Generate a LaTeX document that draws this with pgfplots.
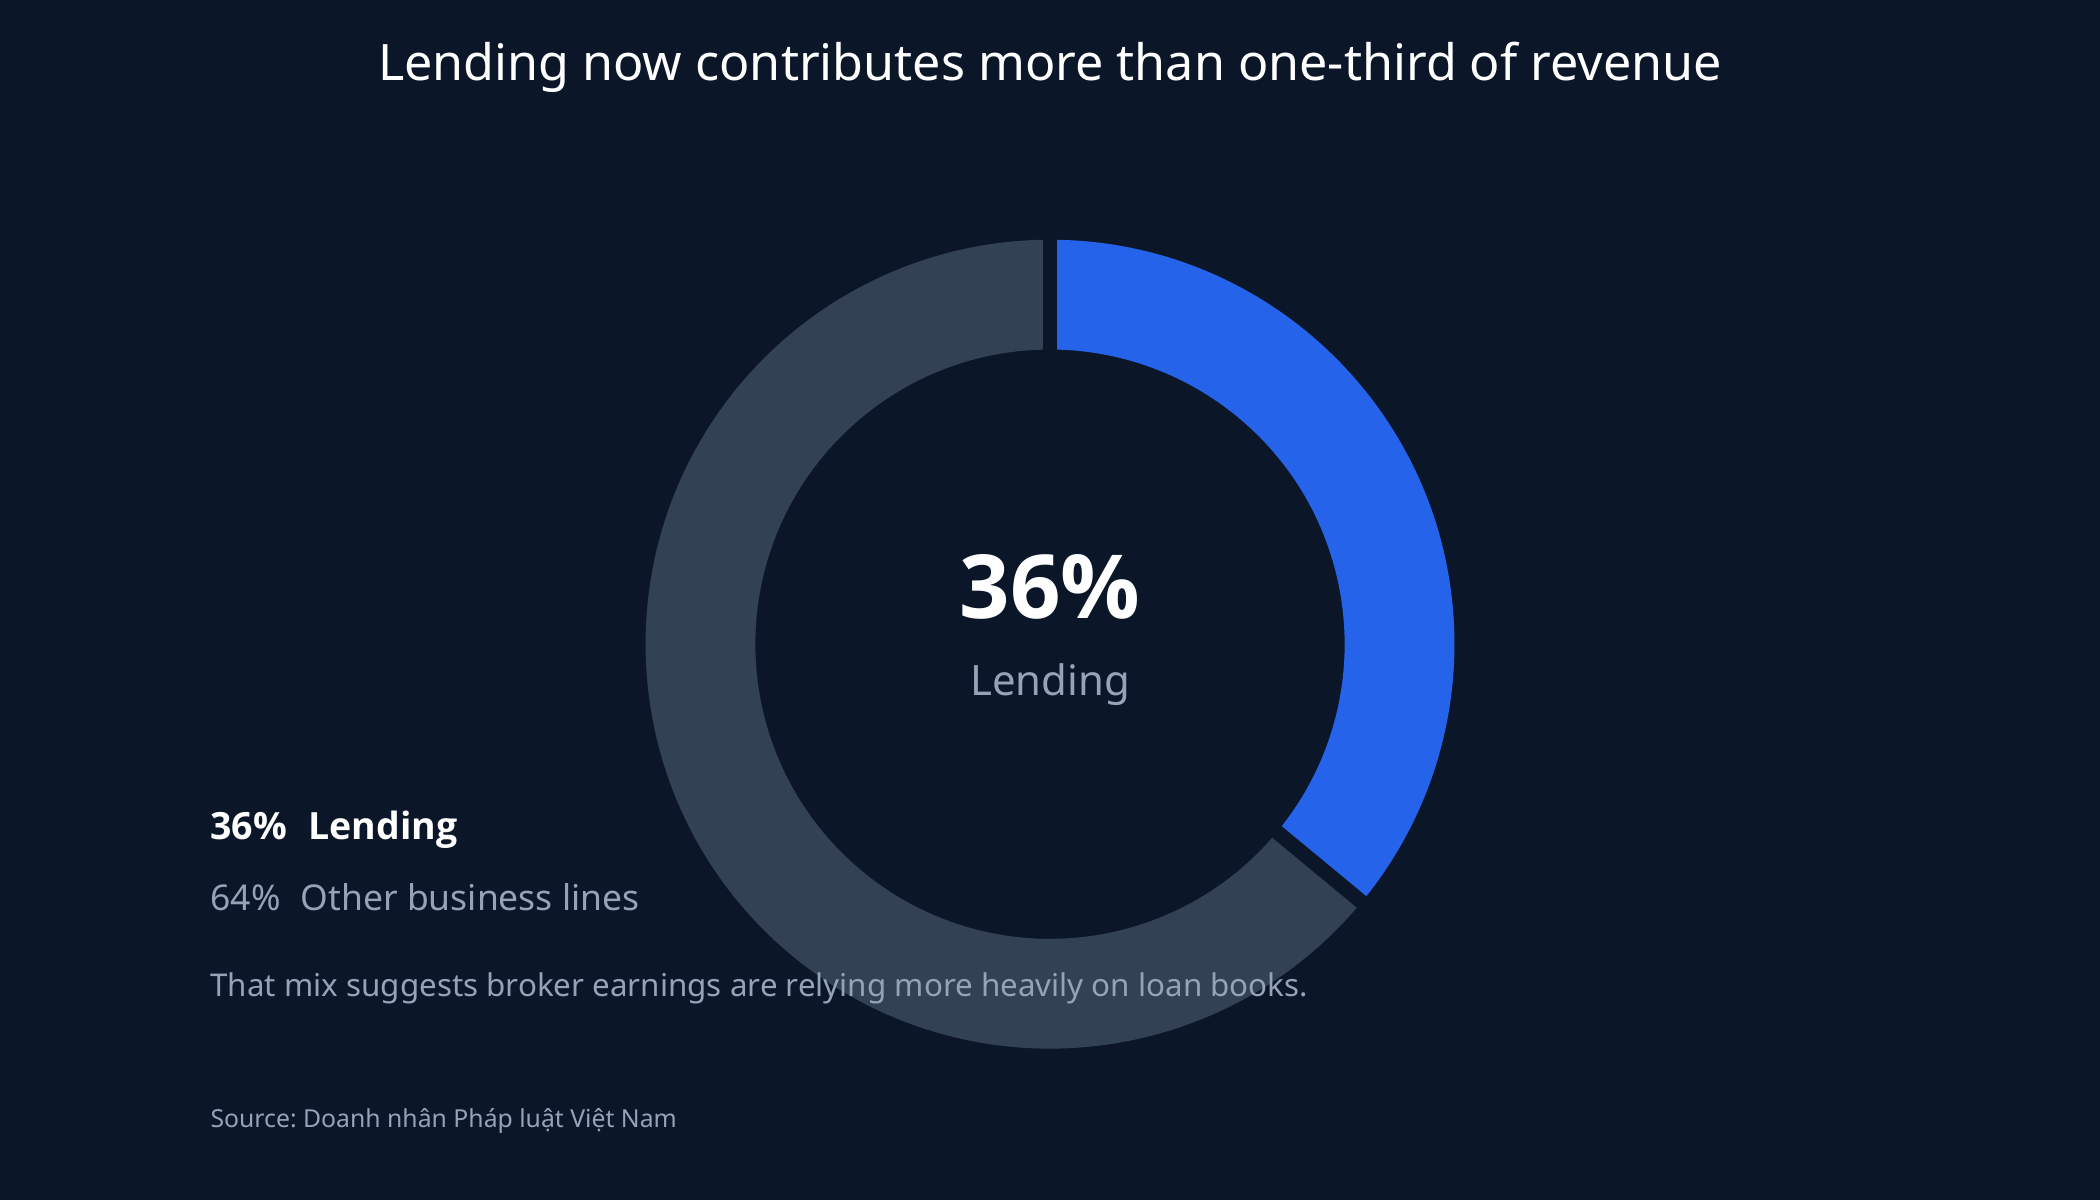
\documentclass[border=0pt]{standalone}
\usepackage{fontspec}
\setmainfont{Noto Sans}
\newfontfamily\osans{Open Sans}
\usepackage{pgfplots}
\pgfplotsset{compat=1.18}
\frenchspacing

\definecolor{bg}{HTML}{0B1628}
\definecolor{lendblue}{HTML}{2563EB}
\definecolor{othergray}{HTML}{334155}
\definecolor{muted}{HTML}{94A3B8}

\newcommand{\fs}[1]{\fontsize{#1pt}{#1pt}\selectfont}

\begin{document}
\begin{tikzpicture}
% shares in percent
\pgfmathsetmacro{\lend}{36}
\pgfmathsetmacro{\other}{64}
\pgfmathsetmacro{\cut}{90-3.6*\lend}
\pgfmathsetmacro{\stop}{\cut-3.6*\other}
\useasboundingbox (0,0) rectangle (1568pt,896pt);
\fill[bg] (0,0) rectangle (1568pt,896pt);
\begin{axis}[
  x=1pt, y=1pt,
  xmin=0, xmax=1568, ymin=0, ymax=896,
  at={(0,0)}, anchor=south west,
  hide axis, clip=false]
\begin{scope}[shift={(axis cs:784,415)}]
  \fill[lendblue] (90:302pt) arc[start angle=90, end angle=\cut, radius=302pt]
    -- (\cut:220pt) arc[start angle=\cut, end angle=90, radius=220pt] -- cycle;
  \fill[othergray] (\cut:302pt) arc[start angle=\cut, end angle=\stop, radius=302pt]
    -- (\stop:220pt) arc[start angle=\stop, end angle=\cut, radius=220pt] -- cycle;
  \draw[bg, line width=11pt] (90:210pt) -- (90:312pt);
  \draw[bg, line width=11pt] (\cut:210pt) -- (\cut:312pt);
\end{scope}

\node[anchor=base, white] at (axis cs:784,836) {\fs{37.5}Lending now contributes more than one-third of revenue};
\node[anchor=base, white] at (axis cs:784,434) {\osans\fs{66}\bfseries 36\%};
\node[anchor=base, muted] at (axis cs:784,377) {\fs{31.3}Lending};

\node[anchor=base west, white, inner sep=0pt] at (axis cs:157,269) {\osans\fs{28}\bfseries 36\%\hspace{16pt}Lending};
\node[anchor=base west, muted, inner sep=0pt] at (axis cs:157,216) {\fs{26.5}64\%\hspace{15pt}Other business lines};
\node[anchor=base west, muted, inner sep=0pt] at (axis cs:157,152) {\fs{23.4}That mix suggests broker earnings are relying more heavily on loan books.};
\node[anchor=base west, muted, inner sep=0pt] at (axis cs:157,54) {\fs{18.5}Source: Doanh nhân Pháp luật Việt Nam};
\end{axis}
\end{tikzpicture}
\end{document}
